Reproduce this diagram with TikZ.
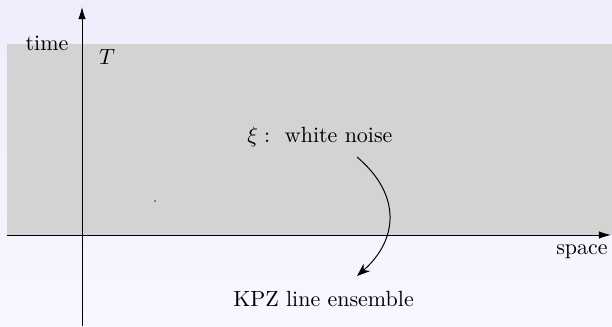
\documentclass[tikz,border=0pt]{standalone}
\usetikzlibrary{arrows.meta}
\definecolor{bgtop}{RGB}{237,237,252}
\definecolor{bgbot}{RGB}{247,247,255}
\definecolor{region}{RGB}{211,211,211}
\begin{document}
\begin{tikzpicture}[x=0.455pt,y=-0.455pt,
  axis/.style={line width=0.45pt,-{Latex[length=5.5pt,width=3.4pt]}},
  lab/.style={inner sep=0pt,anchor=base},
  flow/.style={line width=0.45pt,-{Stealth[length=6pt,width=4.5pt]}}]
  % canvas and the shaded space-time strip
  \shade[top color=bgtop,bottom color=bgbot] (0,0) rectangle (612,326);
  \useasboundingbox (0,0) rectangle (612,326);
  \fill[region] (7,44) rectangle (612,235);
  % axes
  \coordinate (xs) at (7,235);
  \coordinate (xe) at (611,235);
  \coordinate (ys) at (82,326);
  \coordinate (ye) at (82,7);
  \draw[axis] (xs) -- (xe);
  \draw[axis] (ys) -- (ye);
  % labels
  \node[lab] (time) at (47,50) {time};
  \node[lab] (T) at (107,64) {$T$};
  \node[lab] (space) at (582,254) {space};
  \node[lab] (noise) at (320,142) {$\xi:$\ \ white noise};
  \node[lab] (kpz) at (323.5,306) {KPZ line ensemble};
  % small point in the strip
  \fill[black!75] (155,201) circle (0.45pt);
  % noise drives the line ensemble
  \coordinate (cs) at (357,157);
  \coordinate (ce) at (357,276);
  \draw[flow] (cs) .. controls (402,195) and (398,240) .. (ce);
\end{tikzpicture}
\end{document}
